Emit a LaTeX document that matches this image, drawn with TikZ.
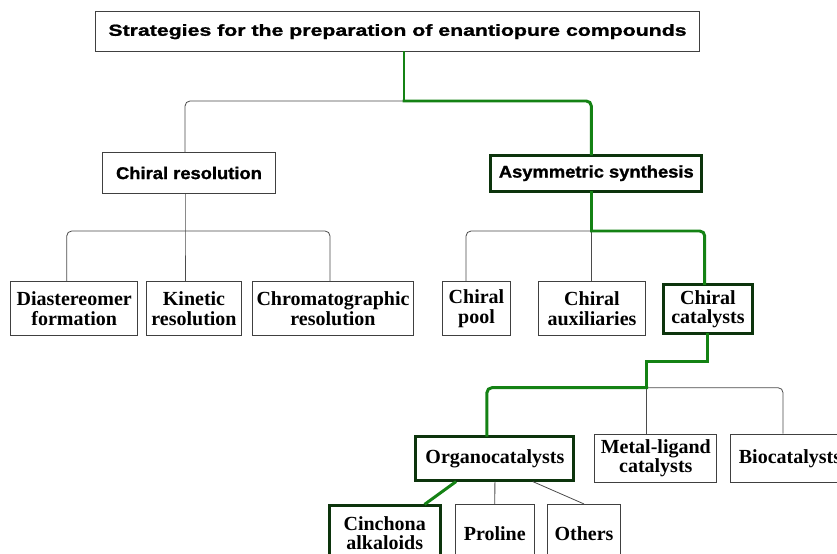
\documentclass[tikz,border=0pt]{standalone}
\usepackage{fontspec}
\setmainfont{Liberation Serif}
\newfontfamily\titlefont[FakeStretch=1.33,FakeBold=1.2]{Liberation Sans}
\newfontfamily\headfont[FakeStretch=1.08,FakeBold=1.2]{Liberation Sans}
\usetikzlibrary{calc}
\definecolor{linegreen}{RGB}{20,130,20}
\definecolor{boxgreen}{RGB}{12,52,12}
\definecolor{linegray}{RGB}{75,75,75}
\tikzset{
%Define style for the plain boxes
box/.style={draw=black!75, line width=0.9pt, fill=white, inner sep=0pt, align=center,
  font=\fontsize{20bp}{19.5bp}\selectfont\bfseries},
%Define style for the boxes on the highlighted path
keybox/.style={box, draw=boxgreen, line width=3pt},
%Define style for the upper boxes
headbox/.style={box, font=\headfont\fontsize{17bp}{20bp}\selectfont\bfseries},
%Define style for different line styles
link/.style={draw=linegray, line width=0.8pt},
glink/.style={draw=linegreen, line width=3pt, line cap=rect},
}

\begin{document}
\begin{tikzpicture}[x=1bp, y=-1bp]
    \clip (0,0) rectangle (837,554);
    % Boxes
    \node[headbox, minimum width=607, minimum height=40, font=\titlefont\fontsize{16bp}{20bp}\selectfont\bfseries] (title) at (397.5,31.7) {Strategies for the preparation of enantiopure compounds};
    \node[headbox, minimum width=174, minimum height=40.6] (res) at (189,173) {Chiral resolution};
    \node[headbox, keybox, font=\headfont\fontsize{17bp}{20bp}\selectfont\bfseries, minimum width=211.7, minimum height=36] (asym) at (596.3,173.2) {Asymmetric synthesis};
    \node[box, minimum width=127, minimum height=54] (dia) at (74.2,308.7) {Diastereomer\\formation};
    \node[box, minimum width=94.5, minimum height=54] (kin) at (194,308.7) {Kinetic\\resolution};
    \node[box, minimum width=161.8, minimum height=54] (chrom) at (333,308.7) {Chromatographic\\resolution};
    \node[box, minimum width=67.8, minimum height=54] (pool) at (476.5,308.7) {Chiral\\pool};
    \node[box, minimum width=108, minimum height=54] (aux) at (592,308.7) {Chiral\\auxiliaries};
    \node[keybox, minimum width=89, minimum height=48.7] (cat) at (708,309.2) {Chiral\\catalysts};
    \node[keybox, minimum width=158.7, minimum height=43.7] (org) at (494.9,458.3) {Organocatalysts};
    \node[box, minimum width=122.5, minimum height=48.7] (metal) at (655.8,458.3) {Metal-ligand\\catalysts};
    \node[box, minimum width=120, minimum height=48.7] (bio) at (790,458.3) {Biocatalysts};
    \node[keybox, minimum width=111.6, minimum height=55] (cinch) at (384.7,533.3) {Cinchona\\alkaloids};
    \node[box, minimum width=79.6, minimum height=58] (prol) at (494.8,533.3) {Proline};
    \node[box, minimum width=74, minimum height=58] (oth) at (584,533.3) {Others};
    % Junctions
    \coordinate (j1) at (404,101);
    \coordinate (j2) at (185,231);
    \coordinate (j3) at (591.6,231);
    \coordinate (j4) at (646.6,361.7);
    \coordinate (j5) at (646.6,387.7);
    % First level
    \draw[link, rounded corners=5] (j1) -| ([xshift=-4]res.north);
    \draw[glink] (title.south -| j1) -- (j1);
    \draw[glink, rounded corners=5] (j1) -| ([xshift=-5]asym.north);
    % Chiral resolution
    \draw[link] (res.south -| j2) -- (j2) -- (kin.north -| j2);
    \draw[link, rounded corners=5] (j2) -| ([xshift=-7.5]dia.north);
    \draw[link, rounded corners=5] (j2) -| ([xshift=-3]chrom.north);
    % Asymmetric synthesis
    \draw[link, rounded corners=5] (j3) -| ([xshift=-10.5]pool.north);
    \draw[link] (j3) -- (aux.north -| j3);
    \draw[glink] (asym.south -| j3) -- (j3);
    \draw[glink, rounded corners=5] (j3) -| ([xshift=-3.3]cat.north);
    % Chiral catalysts
    \draw[glink] ([xshift=-1]cat.south) |- (j4) -- (j5);
    \draw[link, rounded corners=5] (j5) -| ([xshift=-7]bio.north);
    \draw[link] (j5) -- (metal.north -| j5);
    \draw[glink, rounded corners=5] (j5) -| ([xshift=-8]org.north);
    % Organocatalysts
    \draw[glink, line cap=butt] ([xshift=-39]org.south) -- ([xshift=40]cinch.north);
    \draw[link] (org.south) -- (prol.north);
    \draw[link] ([xshift=38]org.south) -- (oth.north);
\end{tikzpicture}
\end{document}
